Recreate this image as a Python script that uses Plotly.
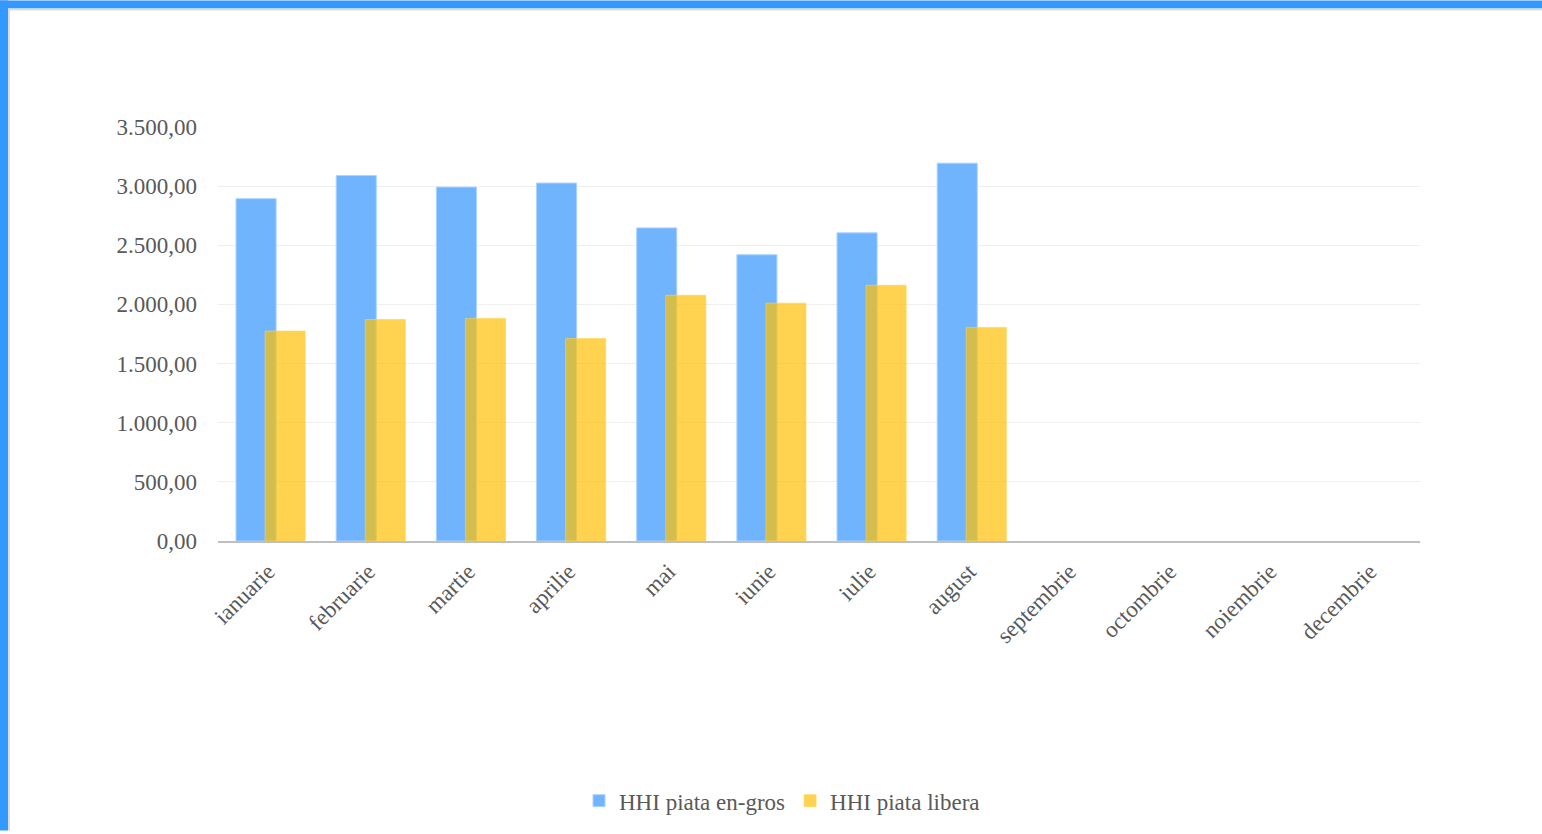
import plotly.graph_objects as go

months = ["ianuarie", "februarie", "martie", "aprilie", "mai", "iunie", "iulie",
          "august", "septembrie", "octombrie", "noiembrie", "decembrie"]
hhi_engros = [2894, 3090, 2992, 3026, 2647, 2420, 2605, 3194, None, None, None, None]
hhi_libera = [1775, 1873, 1882, 1711, 2078, 2011, 2162, 1806, None, None, None, None]

W, H = 1542, 834
L, R, T, B = 218, 122, 127, 291
pw, ph = W - L - R, H - T - B

def px_x(x):
    return (x - L) / pw

def px_y(y):
    return (H - B - y) / ph

font_family = "Liberation Serif"
tick_color = "#595959"
fs = 23

fig = go.Figure()
fig.add_trace(go.Bar(
    x=months, y=hhi_engros, name="HHI piata en-gros",
    marker=dict(color="#70b4fe", line=dict(color="#a9d2ff", width=1)),
    width=0.4, offset=-0.32,
))
fig.add_trace(go.Bar(
    x=months, y=hhi_libera, name="HHI piata libera",
    marker=dict(color="rgba(255,192,4,0.7)", line=dict(color="rgba(255,210,80,0.6)", width=1)),
    width=0.4, offset=-0.03,
))

shapes = [
    dict(type="rect", xref="paper", yref="paper", x0=px_x(0), x1=px_x(W), y0=px_y(8), y1=px_y(0),
         fillcolor="#3399ff", line=dict(width=0), layer="above"),
    dict(type="rect", xref="paper", yref="paper", x0=px_x(0), x1=px_x(8), y0=px_y(H), y1=px_y(0),
         fillcolor="#3399ff", line=dict(width=0), layer="above"),
    dict(type="rect", xref="paper", yref="paper", x0=px_x(8), x1=px_x(W), y0=px_y(10), y1=px_y(8),
         fillcolor="#dcdcdc", line=dict(width=0), layer="above"),
    dict(type="rect", xref="paper", yref="paper", x0=px_x(8), x1=px_x(10), y0=px_y(H), y1=px_y(8),
         fillcolor="#dcdcdc", line=dict(width=0), layer="above"),
]

fig.update_layout(
    width=W, height=H,
    margin=dict(l=L, r=R, t=T, b=B, pad=0),
    paper_bgcolor="white", plot_bgcolor="white",
    barmode="overlay",
    separators=",.",
    font=dict(family=font_family, size=fs, color=tick_color),
    showlegend=True,
    legend=dict(orientation="h", x=px_x(782), xanchor="center", y=px_y(804), yanchor="middle",
                font=dict(family=font_family, size=fs, color=tick_color),
                itemwidth=30, traceorder="normal"),
    shapes=shapes,
    xaxis=dict(
        categoryorder="array", categoryarray=months,
        tickangle=-45, showgrid=False, showline=True, linecolor="#bfbfbf", linewidth=2,
        ticks="", ticklabelstandoff=6,
        tickfont=dict(family=font_family, size=fs, color=tick_color),
        range=[-0.5, 11.5],
    ),
    yaxis=dict(
        range=[0, 3500], dtick=500, tickformat=",.2f",
        showgrid=True, gridcolor="#efefef", gridwidth=1,
        zeroline=False, showline=False, ticks="",
        ticklabelstandoff=20,
        tickfont=dict(family=font_family, size=fs, color=tick_color),
    ),
)

fig.write_html("out.html", config={"displayModeBar": False},
               post_script="document.body.style.margin='0';document.body.style.overflow='hidden';")
